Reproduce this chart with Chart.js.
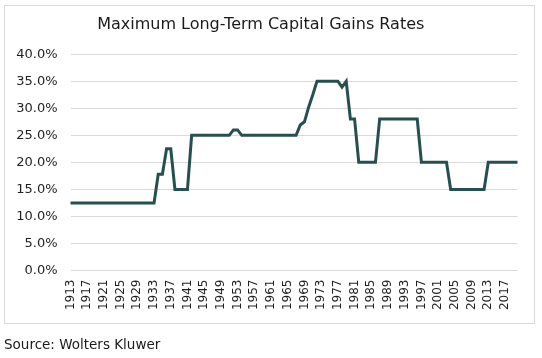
<!DOCTYPE html>
<html>
<head>
<meta charset="utf-8">
<script src="https://cdn.jsdelivr.net/npm/chart.js@4/dist/chart.umd.min.js"></script>
<style>
  html, body { margin: 0; padding: 0; background: #fff; }
  body { width: 542px; height: 358px; position: relative; overflow: hidden; font-family: "DejaVu Sans", Verdana, sans-serif; }
  #box { position: absolute; left: 4px; top: 5px; width: 529px; height: 317px; border: 1px solid #d9d9d9; box-sizing: content-box; }
  #wrap { position: absolute; left: 0; top: 0; width: 542px; height: 358px; }
  #source { position: absolute; left: 4px; top: 336px; font-size: 13.5px; color: #1a1a1a; white-space: nowrap; }
</style>
</head>
<body>
<div id="box"></div>
<div id="wrap"><canvas id="c" width="542" height="358"></canvas></div>
<div id="source">Source: Wolters Kluwer</div>
<script>
// Years (categories)
const years = [];
for (let y = 1913; y <= 2020; y++) years.push(String(y));

// Maximum long-term capital gains rates (%), one per year 1913–2020
const rates = [
  12.5,12.5,12.5,12.5,12.5,12.5,12.5,12.5,12.5,12.5, // 1913-1922
  12.5,12.5,12.5,12.5,12.5,12.5,12.5,12.5,12.5,12.5, // 1923-1932
  12.5,                                              // 1933
  17.8,17.8,                                         // 1934-1935
  22.5,22.5,                                         // 1936-1937
  15,15,15,15,                                       // 1938-1941
  25,25,25,25,25,25,25,25,25,25,                     // 1942-1951
  26,26,                                             // 1952-1953
  25,25,25,25,25,25,25,25,25,25,25,25,25,25,         // 1954-1967
  26.9,27.5,30.2,32.5,                               // 1968-1971
  35,35,35,35,35,35,                                 // 1972-1977
  33.9,                                              // 1978
  35,                                                // 1979
  28,28,                                             // 1980-1981
  20,20,20,20,20,                                    // 1982-1986
  28,28,28,28,28,28,28,28,28,28,                     // 1987-1996
  20,20,20,20,20,20,20,                              // 1997-2003
  15,15,15,15,15,15,15,15,15,                        // 2004-2012
  20,20,20,20,20,20,20,20                            // 2013-2020
];

// Tick labels shown on the x axis
const xTickLabels = years.filter((y, i) => i % 4 === 0);
// Y axis tick values
const yTicks = [0, 5, 10, 15, 20, 25, 30, 35, 40];

const FONT = "'DejaVu Sans', Verdana, sans-serif";

new Chart(document.getElementById('c'), {
  type: 'line',
  data: {
    labels: years,
    datasets: [{
      data: rates,
      borderColor: '#264f4f',
      borderWidth: 3,
      pointRadius: 0,
      tension: 0,
      fill: false
    }]
  },
  options: {
    responsive: false,
    animation: false,
    devicePixelRatio: 1,
    layout: { padding: { left: 4, right: 24.5, top: 0, bottom: 37.5 } },
    plugins: {
      legend: { display: false },
      tooltip: { enabled: false },
      title: {
        display: true,
        text: 'Maximum Long-Term Capital Gains Rates',
        color: '#1a1a1a',
        font: { family: FONT, size: 16, weight: 'normal' },
        padding: { top: 15, bottom: 20 }
      }
    },
    scales: {
      x: {
        type: 'category',
        offset: false,
        grid: { display: false, drawTicks: false },
        border: { display: false },
        ticks: {
          autoSkip: false,
          minRotation: 90,
          maxRotation: 90,
          padding: 9,
          color: '#1f1f1f',
          font: { family: FONT, size: 12 },
          callback: function(v, i) {
            const lab = this.getLabelForValue(v);
            return xTickLabels.includes(lab) ? lab : null;
          }
        },
        afterFit: function(s) { s.height = 50; }
      },
      y: {
        min: 0,
        max: 40,
        afterBuildTicks: function(s) { s.ticks = yTicks.map(v => ({ value: v })); },
        grid: { color: '#d9d9d9', lineWidth: 1, drawTicks: false },
        border: { display: false },
        ticks: {
          padding: 13,
          color: '#1f1f1f',
          font: { family: FONT, size: 13 },
          callback: v => v.toFixed(1) + '%'
        },
        afterFit: function(s) { s.width = 66.5; }
      }
    }
  }
});
</script>
</body>
</html>
